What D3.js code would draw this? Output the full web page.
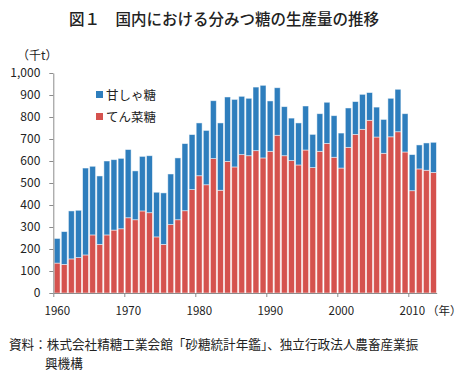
<!DOCTYPE html>
<meta charset="utf-8">
<html>
<head>
<title>国内における分みつ糖の生産量の推移</title>
</head>

<style>
  body { margin: 0; background: #fff; }
  svg text { font-family: "Noto Sans CJK JP", "Noto Sans", sans-serif; fill: #222; }
  .axis path, .axis line { stroke: #8c8c8c; }
  .axis text { font-size: 11.5px; fill: #222; }
</style>

<script src="https://d3js.org/d3.v7.min.js"></script>

<body>
<svg width="462" height="385"></svg>
</body>

<script>
  // years 1960-2013
  var years = d3.range(1960, 2014);

  // てん菜糖 (beet sugar), 千t
  var beet = [136, 130, 155, 161, 173, 264, 221, 264, 286, 292,
              342, 333, 373, 365, 255, 221, 311, 333, 374, 470,
              533, 492, 611, 467, 598, 573, 629, 624, 647, 614,
              644, 717, 624, 602, 582, 650, 570, 644, 680, 617,
              568, 662, 721, 744, 785, 709, 635, 710, 733, 641,
              465, 564, 558, 548];

  // 甘しゃ糖 (cane sugar), 千t
  var cane = [112, 149, 218, 215, 395, 312, 311, 336, 320, 320,
              310, 222, 248, 259, 203, 234, 230, 281, 305, 250,
              240, 247, 263, 306, 293, 307, 265, 261, 289, 330,
              229, 216, 223, 193, 191, 200, 151, 171, 187, 189,
              159, 179, 149, 159, 126, 136, 154, 175, 193, 174,
              164, 109, 124, 137];

  var yTicks = [0, 100, 200, 300, 400, 500, 600, 700, 800, 900, 1000];
  var xTicks = [1960, 1970, 1980, 1990, 2000, 2010];

  var seriesNames = ["てん菜糖", "甘しゃ糖"];
  var colors = {"てん菜糖": "#d5524e", "甘しゃ糖": "#2e7ebd"};

  var svg = d3.select("svg");

  var rows = years.map(function(y, i) {
      return {year: y, "てん菜糖": beet[i], "甘しゃ糖": cane[i]};
  });
  var stacked = d3.stack().keys(seriesNames)(rows);

  // x: linear over year boundaries, so decade ticks sit between bars
  var x = d3.scaleLinear().domain([1960, 2014]).range([53.3, 436.7]);
  var y = d3.scaleLinear().domain([0, 1000]).range([293, 73]);
  var step = x(1961) - x(1960);

  // title
  svg.append("text")
      .attr("x", 224).attr("y", 25)
      .attr("text-anchor", "middle")
      .style("font-size", "15.5px")
      .style("font-weight", "500")
      .text("図１　国内における分みつ糖の生産量の推移");

  svg.append("text")
      .attr("x", 17).attr("y", 60)
      .style("font-size", "12px")
      .text("（千t）");

  // bars
  svg.append("g").selectAll("g")
      .data(stacked)
      .enter().append("g")
      .attr("fill", function(d) { return colors[d.key]; })
      .selectAll("rect")
      .data(function(d) { return d; })
      .enter().append("rect")
      .attr("x", function(d) { return x(d.data.year) + 0.9; })
      .attr("width", step - 1.2)
      .attr("y", function(d) { return y(d[1]); })
      .attr("height", function(d) { return y(d[0]) - y(d[1]); })
      .attr("stroke", "#fff")
      .attr("stroke-opacity", 0.6)
      .attr("stroke-width", 0.8);

  // y axis
  svg.append("g")
      .attr("class", "axis")
      .attr("transform", "translate(53.3,0)")
      .call(d3.axisLeft(y).tickValues(yTicks).tickSize(4).tickPadding(9)
            .tickSizeOuter(0).tickFormat(d3.format(",")))
      .selectAll("text").style("font-size", "12px");

  // x axis
  var xAxis = svg.append("g")
      .attr("class", "axis")
      .attr("transform", "translate(0,293)")
      .call(d3.axisBottom(x).tickValues(xTicks).tickSize(4).tickSizeOuter(0)
            .tickFormat(""));

  xAxis.selectAll(".tick").append("text")
      .attr("x", step / 2)
      .attr("y", 22)
      .attr("text-anchor", "middle")
      .text(function(d) { return d; });

  svg.append("text")
      .attr("x", 427)
      .attr("y", 315)
      .style("font-size", "11.5px")
      .text("（年）");

  // legend
  var legend = svg.append("g");
  var legendItems = ["甘しゃ糖", "てん菜糖"];
  legendItems.forEach(function(name, i) {
      legend.append("rect")
          .attr("x", 96).attr("y", 91 + i * 22)
          .attr("width", 7).attr("height", 7)
          .attr("fill", colors[name]);
      legend.append("text")
          .attr("x", 106).attr("y", 100 + i * 22)
          .style("font-size", "12.5px")
          .text(name);
  });

  // source
  svg.append("text")
      .attr("x", 9).attr("y", 349)
      .style("font-size", "12.6px")
      .text("資料：株式会社精糖工業会館「砂糖統計年鑑」、独立行政法人農畜産業振");
  svg.append("text")
      .attr("x", 45).attr("y", 368)
      .style("font-size", "12.6px")
      .text("興機構");
</script>
</html>
